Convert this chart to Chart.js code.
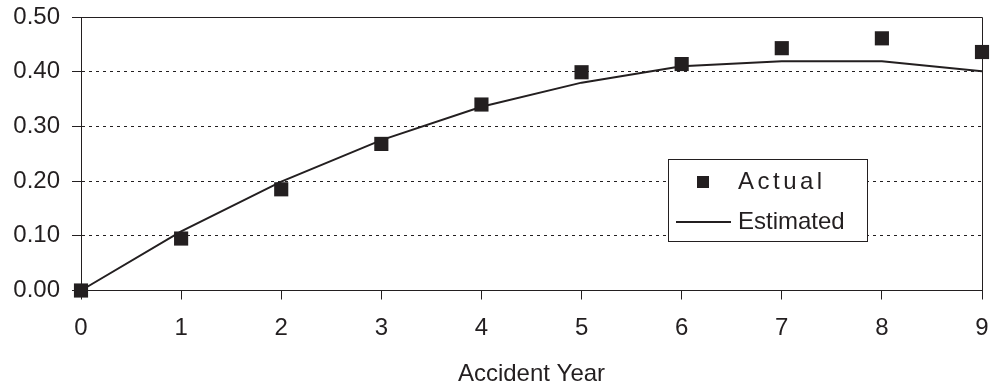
<!DOCTYPE html>
<html>
<head>
<meta charset="utf-8">
<script src="https://cdn.jsdelivr.net/npm/chart.js@4/dist/chart.umd.min.js"></script>
<style>
  html, body { margin: 0; padding: 0; background: #fff; }
  #wrap { width: 995px; height: 392px; position: relative; }
</style>
</head>
<body>
<div id="wrap"><canvas id="c" width="995" height="392"></canvas></div>
<script>
const years = [0, 1, 2, 3, 4, 5, 6, 7, 8, 9];
const actual = [0.000, 0.095, 0.185, 0.268, 0.340, 0.399, 0.414, 0.443, 0.461, 0.436];
const estimated = [0.000, 0.108, 0.199, 0.275, 0.336, 0.380, 0.410, 0.419, 0.419, 0.401];
const yTickValues = [0.0, 0.1, 0.2, 0.3, 0.4, 0.5];
const seriesNames = ['Actual', 'Estimated'];
const xTitle = 'Accident Year';

const INK = '#231f20';
const FONT = '"Liberation Sans", Arial, sans-serif';

const framePlugin = {
  id: 'frame',
  afterDatasetsDraw(chart) {
    const { ctx, chartArea: a } = chart;
    ctx.save();
    ctx.strokeStyle = INK;
    ctx.lineWidth = 1;
    ctx.setLineDash([]);
    ctx.beginPath();
    ctx.moveTo(Math.round(a.left) + 0.5, Math.round(a.top) + 0.5);
    ctx.lineTo(Math.round(a.right) + 0.5, Math.round(a.top) + 0.5);
    ctx.lineTo(Math.round(a.right) + 0.5, Math.round(a.bottom) + 0.5);
    ctx.stroke();
    ctx.restore();
  },
  afterDraw(chart) {
    const { ctx } = chart;
    ctx.save();
    ctx.setLineDash([]);
    // legend box
    const bx = 668.5, by = 159.5, bw = 199, bh = 82;
    ctx.fillStyle = '#fff';
    ctx.fillRect(bx, by, bw, bh);
    ctx.strokeStyle = INK;
    ctx.lineWidth = 1;
    ctx.strokeRect(bx, by, bw, bh);
    // marker
    ctx.fillStyle = INK;
    ctx.fillRect(697, 176, 12, 12);
    // line sample
    ctx.lineWidth = 2;
    ctx.beginPath();
    ctx.moveTo(676, 222);
    ctx.lineTo(731, 222);
    ctx.stroke();
    // text
    ctx.font = '24px ' + FONT;
    ctx.textBaseline = 'middle';
    ctx.textAlign = 'left';
    ctx.fillStyle = INK;
    try { ctx.letterSpacing = '3.5px'; } catch (e) {}
    ctx.fillText(seriesNames[0], 738, 182);
    try { ctx.letterSpacing = '0px'; } catch (e) {}
    ctx.fillText(seriesNames[1], 738, 222);
    ctx.restore();
  }
};

new Chart(document.getElementById('c'), {
  type: 'scatter',
  data: {
    datasets: [
      {
        label: seriesNames[1],
        data: years.map((x, i) => ({ x, y: estimated[i] })),
        showLine: true,
        borderColor: INK,
        borderWidth: 2,
        pointRadius: 0,
        tension: 0,
        clip: false,
        order: 2
      },
      {
        label: seriesNames[0],
        data: years.map((x, i) => ({ x, y: actual[i] })),
        showLine: false,
        pointStyle: 'rect',
        pointRadius: 10,
        backgroundColor: INK,
        borderColor: INK,
        borderWidth: 0,
        clip: false,
        order: 1
      }
    ]
  },
  options: {
    responsive: false,
    animation: false,
    devicePixelRatio: 1,
    layout: { padding: { left: 0, right: 13, top: 17, bottom: 0 } },
    plugins: {
      legend: { display: false },
      tooltip: { enabled: false }
    },
    scales: {
      x: {
        type: 'linear',
        min: 0, max: 9,
        afterFit(s) { s.height = 101.5; s.paddingLeft = 0; s.paddingRight = 0; },
        ticks: {
          stepSize: 1,
          color: INK,
          font: { family: FONT, size: 24 },
          padding: 14
        },
        grid: {
          drawOnChartArea: false,
          drawTicks: true,
          tickLength: 9,
          color: INK,
          tickColor: INK
        },
        border: { display: true, color: INK, width: 1 },
        title: {
          display: true,
          text: xTitle,
          color: INK,
          font: { family: FONT, size: 24 },
          padding: { top: 0, bottom: 3 }
        }
      },
      y: {
        min: 0, max: 0.5,
        afterFit(s) { s.width = 81; s.paddingTop = 0; s.paddingBottom = 0; },
        afterBuildTicks(s) { s.ticks = yTickValues.map(v => ({ value: v })); },
        ticks: {
          color: INK,
          font: { family: FONT, size: 24 },
          padding: 12,
          callback: v => Number(v).toFixed(2)
        },
        grid: {
          color: INK,
          tickBorderDash: [],
          tickLength: 9,
          tickColor: INK,
          lineWidth: 1
        },
        border: { display: true, color: INK, width: 1, dash: [3, 4] }
      }
    }
  },
  plugins: [framePlugin]
});
</script>
</body>
</html>
